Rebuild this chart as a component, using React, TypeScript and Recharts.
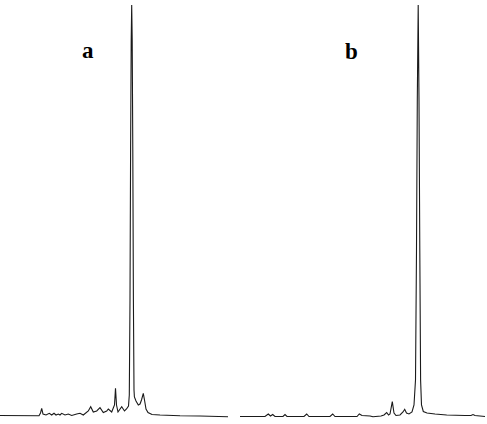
import React from "react";
import { LineChart, Line, XAxis, YAxis } from "recharts";

// Panel a: retention position and detector signal
const timeA = [0, 39, 40.5, 41.7, 43, 46, 49.3, 51.7, 54, 56, 58.3, 60, 61.7, 65, 68.3, 71.7, 76.7, 80, 83.3, 88.3, 90.7, 93.3, 96.7, 100, 103.3, 106.7, 108.3, 111.7, 114.5, 115.5, 116.5, 118, 121.7, 124.5, 126.5, 128.5, 129.3, 130, 130.6, 131.2, 131.7, 132.2, 132.8, 133.4, 134, 134.4, 136, 138.3, 140, 141.5, 143.3, 144.5, 146, 148, 152, 160, 180, 200, 228];
const signalA = [0.5, 0.3, 3, 7.7, 2, 1, 2.7, 1, 2.7, 1, 2, 1, 2.7, 1, 2, 0.5, 2, 2.7, 1, 5, 9.3, 4, 5, 8.3, 3.5, 5, 7, 4, 11, 27.7, 11, 4, 9.3, 5, 7, 10, 21, 116, 266, 376, 411, 376, 266, 116, 26, 19, 15, 11, 12, 16, 22.7, 16, 7, 3.5, 1.5, 1, 0.2, 0, -0.7];

// Panel b
const timeB = [240, 265, 268.3, 270.5, 272.7, 275, 283, 285, 287, 304, 306.7, 309, 330, 332.7, 335, 357, 359.3, 362, 370, 373, 381, 384, 386.7, 388.5, 390, 392.3, 394, 396, 400, 403, 404.7, 406.5, 409, 412, 414, 415.5, 416.5, 417.3, 418.2, 419, 419.8, 420.6, 421.5, 423.3, 427, 435, 446.7, 465, 471, 473, 475, 485];
const signalB = [-0.5, -0.5, 2, 0, 1.5, -0.5, -0.5, 1.5, -0.5, -0.5, 2, -0.5, -0.5, 2, -0.5, -0.5, 2, 0.5, 0, -0.7, 0, 1, 3.5, 1, 2, 14.3, 3, 0.5, 1, 4, 6.7, 3, 2, 4, 11, 36, 166, 316, 411, 316, 166, 36, 11, 4.5, 3, 2, 1, 0.5, 0.5, 1.5, 0.5, -0.5];

const labels = ["a", "b"];

const dataA = timeA.map((t, i) => ({ t, v: signalA[i] }));
const dataB = timeB.map((t, i) => ({ t, v: signalB[i] }));

export default function App() {
  return (
    <div style={{ position: "absolute", left: 0, top: 0, width: 487, height: 424, background: "#fff" }}>
      <LineChart width={487} height={424} margin={{ top: 0, right: 0, bottom: 0, left: 0 }}>
        <XAxis type="number" dataKey="t" domain={[0, 487]} hide allowDataOverflow />
        <YAxis type="number" domain={[-8, 416]} hide allowDataOverflow />
        <Line data={dataA} dataKey="v" type="linear" stroke="#1a1a1a" strokeWidth={1.1} dot={false} activeDot={false} isAnimationActive={false} />
        <Line data={dataB} dataKey="v" type="linear" stroke="#1a1a1a" strokeWidth={1.1} dot={false} activeDot={false} isAnimationActive={false} />
      </LineChart>
      <div style={{ position: "absolute", left: 82, top: 38.8, fontFamily: "'Liberation Serif', serif", fontWeight: "bold", fontSize: 23, lineHeight: "23px", color: "#000" }}>{labels[0]}</div>
      <div style={{ position: "absolute", left: 345, top: 39.5, fontFamily: "'Liberation Serif', serif", fontWeight: "bold", fontSize: 23, lineHeight: "23px", color: "#000" }}>{labels[1]}</div>
    </div>
  );
}
